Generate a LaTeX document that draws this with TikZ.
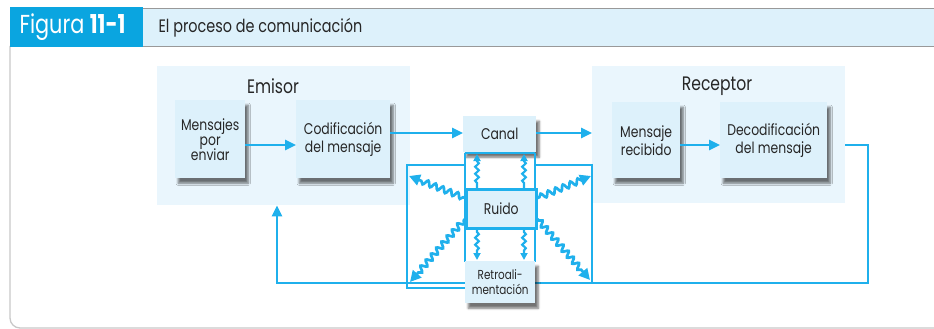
\documentclass[tikz,border=0pt]{standalone}
\usepackage{fontspec}
\setmainfont{Poppins}[FakeStretch=0.8]
\usetikzlibrary{shadows.blur,decorations.pathmorphing,arrows.meta}
\definecolor{cy}{HTML}{1FB0EC}
\definecolor{panel}{HTML}{EAF6FD}
\definecolor{boxf}{HTML}{DDF1FB}
\definecolor{tab}{HTML}{0AA5E0}
\definecolor{bar}{HTML}{DDF1FB}
\definecolor{frm}{HTML}{C8C8C8}
\definecolor{txt}{HTML}{262626}
\begin{document}
\begin{tikzpicture}[x=1pt,y=-1pt,
  panelbox/.style={fill=panel,draw=none,anchor=north west,inner sep=0pt},
  msgbox/.style={fill=boxf,draw=none,anchor=north west,inner sep=1pt,align=center,
    text=txt,font=\fontsize{15.5}{18}\selectfont,
    blur shadow={shadow xshift=3pt,shadow yshift=-5pt,shadow blur steps=6,shadow opacity=55}},
  lbl/.style={text=txt,font=\fontsize{19.5}{22}\selectfont},
  arr/.style={draw=cy,line width=2.5pt,-{Triangle[length=11pt,width=10pt]}},
  ln/.style={draw=cy,line width=2.5pt},
  wave/.style={draw=cy,line width=2.7pt,decorate,
    decoration={snake,amplitude=2.8pt,segment length=8pt,pre length=2pt,post length=10pt},
    -{Triangle[length=11pt,width=11pt]}},
  swave/.style={draw=cy,line width=2.2pt,decorate,
    decoration={snake,amplitude=1.8pt,segment length=7pt,pre length=5pt,post length=7pt},
    -{Triangle[length=7pt,width=7pt]}}]
\useasboundingbox (0,0) rectangle (934,329);
% frame and header
\draw[frm,line width=1.3pt,rounded corners=10pt] (10,46) -- (10,328) -- (934,328);
\fill[bar] (143,9) rectangle (934,46);
\draw[gray!80,line width=1.4pt] (143,8.5) -- (934,8.5);
\draw[gray!80,line width=1.4pt] (143,46.5) -- (934,46.5);
\fill[tab] (10,7) rectangle (143,47);
\node[text=white,font=\fontsize{26}{28}\selectfont,anchor=west] (fig) at (16,27) {Figura \textbf{11-1}};
\node[text=txt,font=\fontsize{18}{20}\selectfont,anchor=west] (title) at (155,28) {El proceso de comunicación};
% panels
\node[panelbox,minimum width=253pt,minimum height=139pt] (emi) at (157,66) {};
\node[panelbox,minimum width=253pt,minimum height=137pt] (rec) at (592,66) {};
\node[lbl] (emil) at (273,86) {Emisor};
\node[lbl] (recl) at (717,86) {Receptor};
% boxes
\node[msgbox,minimum width=70pt,minimum height=78pt] (mpe) at (175,100) {Mensajes\\[-3pt]por\\[-3pt]enviar};
\node[msgbox,minimum width=94pt,minimum height=78pt] (cod) at (296,100) {Codificación\\del mensaje};
\node[msgbox,minimum width=68pt,minimum height=76pt] (mr) at (612,102) {Mensaje\\recibido};
\node[msgbox,minimum width=107pt,minimum height=76pt] (dec) at (720,102) {Decodificación\\del mensaje};
\node[msgbox,minimum width=73pt,minimum height=36pt] (canal) at (463,116) {Canal};
% arrows in panels
\draw[arr] (mpe.east |- 0,145) -- (cod.west |- 0,145);
\draw[arr] (mr.east |- 0,145) -- (dec.west |- 0,145);
\draw[arr] (cod.east |- 0,133) -- (canal.west |- 0,133);
\draw[arr] (canal.east |- 0,133) -- (rec.west |- 0,133);
% feedback loop
\coordinate (fr) at (868,145);
\coordinate (fb) at (277,283);
\draw[ln,-{Triangle[length=11pt,width=10pt]}] (rec.east |- fr) -- (fr) |- (fb) -- (fb |- emi.south);
% noise frames
\draw[ln] (465,153) -- (535,153);
\draw[ln] (465,153) -- (465,262);
\draw[ln] (535,153) -- (535,262);
\draw[ln] (465,165) -- (407,165) -- (407,288) -- (465,288);
\draw[ln] (535,165) -- (592,165) -- (592,283);
% ruido
\node[fill=boxf,draw=cy,line width=2.5pt,anchor=north west,minimum width=70pt,minimum height=39pt,
  text=txt,font=\fontsize{15.5}{18}\selectfont] (ruido) at (465,188) {Ruido};
% retro
\node[msgbox,minimum width=70pt,minimum height=42pt,font=\fontsize{13}{14.5}\selectfont] (retro) at (465,261) {Retroali-\\mentación};
% small waves
\draw[swave] (477,188) -- (477,154);
\draw[swave] (524,188) -- (524,154);
\draw[swave] (477,227) -- (477,260);
\draw[swave] (524,227) -- (524,260);
% large waves
\coordinate (lu) at (409,176);
\coordinate (ld) at (410,282);
\coordinate (ru) at (591,176);
\coordinate (rd) at (590,280);
\draw[wave] (ruido.west |- 0,198) -- (lu);
\draw[wave] (ruido.west |- 0,219) -- (ld);
\draw[wave] (ruido.east |- 0,198) -- (ru);
\draw[wave] (ruido.east |- 0,219) -- (rd);
\end{tikzpicture}
\end{document}
